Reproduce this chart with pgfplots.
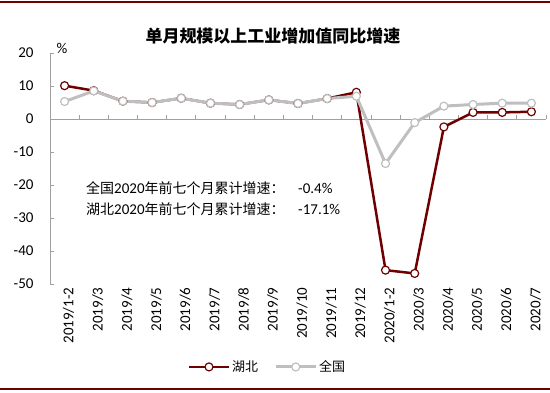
\documentclass[border=0pt]{standalone}
\usepackage{pgfplots}
\pgfplotsset{compat=1.18}
\usepackage{fontspec}
\setmainfont{Carlito}
\newfontfamily\cjk{Noto Sans CJK SC}
\definecolor{hb}{RGB}{112,0,0}
\definecolor{qg}{RGB}{191,191,191}
\definecolor{axg}{RGB}{160,160,160}
\begin{document}
\begin{tikzpicture}
\useasboundingbox (0pt,0pt) rectangle (550pt,392pt);
\draw[hb, line width=1.5pt] (0pt,390pt) -- (550pt,390pt);
\draw[hb, line width=1.5pt] (0pt,3pt) -- (550pt,3pt);
\node[font=\cjk\bfseries\fontsize{17}{20}\selectfont] at (273pt,356pt) {单月规模以上工业增加值同比增速};
\node[font=\fontsize{15}{18}\selectfont, inner sep=0pt] at (62pt,344pt) {\%};
\node[anchor=west, inner sep=0pt, font=\fontsize{15}{18}\selectfont] at (86pt,204pt) {{\cjk\fontsize{14}{16}\selectfont 全国}2020{\cjk\fontsize{14}{16}\selectfont 年前七个月累计增速：}};
\node[anchor=west, inner sep=0pt, font=\fontsize{15}{18}\selectfont] at (298pt,204pt) {-0.4\%};
\node[anchor=west, inner sep=0pt, font=\fontsize{15}{18}\selectfont] at (86pt,183pt) {{\cjk\fontsize{14}{16}\selectfont 湖北}2020{\cjk\fontsize{14}{16}\selectfont 年前七个月累计增速：}};
\node[anchor=west, inner sep=0pt, font=\fontsize{15}{18}\selectfont] at (298pt,183pt) {-17.1\%};
\begin{axis}[
  at={(50pt,108pt)}, anchor=south west,
  scale only axis, width=496pt, height=231pt,
  xmin=-0.5, xmax=16.5, ymin=-50, ymax=20,
  axis x line*=bottom, axis y line*=left,
  x axis line style={draw=none},
  y axis line style={axg, line width=0.8pt},
  xtick={0,...,16},
  xticklabels={2019/1-2,2019/3,2019/4,2019/5,2019/6,2019/7,2019/8,2019/9,2019/10,2019/11,2019/12,2020/1-2,2020/3,2020/4,2020/5,2020/6,2020/7},
  x tick style={draw=none},
  ytick={-50,-40,...,20},
  y tick style={axg, line width=0.8pt},
  tick align=inside, major tick length=4pt,
  /pgf/number format/assume math mode=true,
  tick label style={font=\fontsize{15}{18}\selectfont, text=black},
  xticklabel style={rotate=90, anchor=east, yshift=-4pt},
  yticklabel style={xshift=-13pt},
  legend style={at={(0.4385,-0.359)}, anchor=center, draw=none, legend columns=2,
    font=\cjk\fontsize{13}{15}\selectfont,
    /tikz/every even column/.append style={column sep=14pt}},
  legend image code/.code={\draw[mark repeat=2, mark phase=2, #1] plot coordinates {(0pt,0pt) (20pt,0pt) (40pt,0pt)};},
  clip=false,
]
\draw[axg, line width=0.8pt] (axis cs:-0.5,0) -- (axis cs:16.5,0);
\pgfplotsinvokeforeach{0.5,1.5,...,16.5}{
  \draw[axg, line width=0.8pt] (axis cs:#1,0) -- (axis cs:#1,1.2);
}
\addplot[hb, line width=2.5pt, mark=*, mark size=4pt, mark options={fill=white, draw=hb, line width=1.2pt}] coordinates {
(0,10.1) (1,8.6) (2,5.4) (3,5.0) (4,6.3) (5,4.8) (6,4.4) (7,5.8) (8,4.7) (9,6.2) (10,8.1) (11,-45.8) (12,-46.8) (13,-2.4) (14,2.0) (15,2.0) (16,2.2)};
\addlegendentry{湖北}
\addplot[qg, line width=3pt, mark=*, mark size=4pt, mark options={fill=white, draw=qg, line width=1.2pt}] coordinates {
(0,5.3) (1,8.5) (2,5.4) (3,5.0) (4,6.3) (5,4.8) (6,4.4) (7,5.8) (8,4.7) (9,6.2) (10,6.9) (11,-13.5) (12,-1.1) (13,3.9) (14,4.4) (15,4.8) (16,4.8)};
\addlegendentry{全国}
\end{axis}
\end{tikzpicture}
\end{document}
